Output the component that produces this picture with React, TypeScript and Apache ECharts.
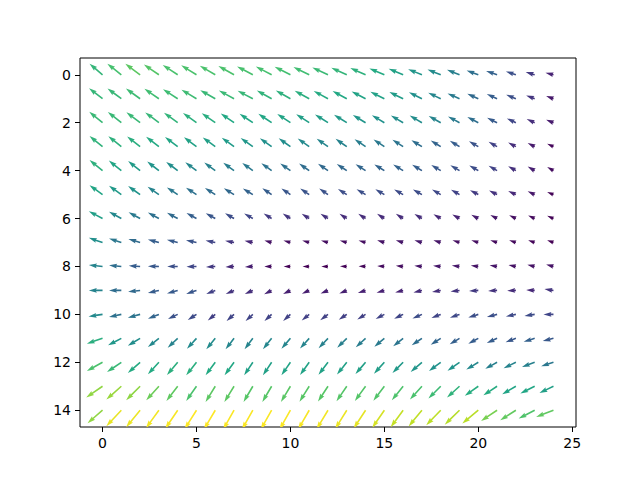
import React, { useEffect, useRef } from 'react';
import * as echarts from 'echarts';

// grid positions (columns along x, rows along y)
const xGrid = [0, 1, 2, 3, 4, 5, 6, 7, 8, 9, 10, 11, 12, 13, 14, 15, 16, 17, 18, 19, 20, 21, 22, 23, 24];
const yGrid = [0, 1, 2, 3, 4, 5, 6, 7, 8, 9, 10, 11, 12, 13, 14];

const xTicks = [0, 5, 10, 15, 20, 25];
const yTicks = [0, 2, 4, 6, 8, 10, 12, 14];

// horizontal component (positive = right), one row per y
const uField = [
  [-13, -14, -14.8, -15, -15, -15.3, -15.5, -15.7, -15.8, -15.8, -15.8, -15.8, -15.7, -15.5, -15.3, -15, -14.5, -13.8, -13.2, -12.5, -11.7, -11, -10, -9, -8],
  [-13.5, -13.8, -14.2, -14.5, -14.7, -15, -15, -15.2, -15.2, -14.8, -14.6, -14.5, -14.3, -14.2, -14, -14, -13.8, -13, -12.5, -12, -11, -10.3, -9.7, -8.5, -7.3],
  [-13.3, -13.5, -13.7, -13.7, -13.7, -13.5, -13.5, -13.3, -13.3, -13.3, -13.2, -13, -13, -12.8, -12.7, -12.5, -12.3, -12.3, -12, -11.5, -11, -10, -9, -8, -7.3],
  [-13, -13, -13, -12.8, -12.7, -12.5, -12.5, -12.3, -12.2, -11.8, -11.7, -11.5, -11.3, -11.2, -11, -10.8, -10.7, -10.5, -10, -9.7, -9.3, -8.5, -7.7, -7, -6.3],
  [-13, -12.5, -12, -11.7, -11.5, -11.2, -11, -10.8, -10.6, -10.3, -10.2, -10.1, -10, -10, -10, -10, -10, -9.8, -9.5, -9.2, -9, -8.5, -7.7, -7, -6.3],
  [-13, -12.3, -12, -11.3, -10.8, -10.5, -10.3, -10.2, -10, -9.3, -9, -9, -8.8, -8.8, -9, -9, -9, -9, -8.7, -8.5, -8.3, -8, -7.7, -7, -6.3],
  [-13.7, -12.3, -11.5, -11, -10.7, -10, -9.5, -9, -8.7, -8, -7.7, -7.5, -7.5, -7.3, -7.3, -7.3, -7.3, -7.5, -7.3, -7.2, -7, -6.8, -6.7, -6.5, -6.3],
  [-13.7, -12.3, -11.7, -11, -10.8, -10.5, -9.7, -9, -8.3, -7.2, -7, -7, -7, -7, -7, -7.2, -7.3, -7.5, -7.3, -7, -7, -6.8, -6.7, -6.5, -6.3],
  [-13.7, -12.3, -11.3, -11, -10.5, -10, -9.3, -8.6, -8, -7.3, -6.8, -6.7, -6.7, -6.8, -7, -7.2, -7.3, -7.6, -7.7, -7.7, -7.5, -7.5, -7.4, -7.3, -7.3],
  [-13.7, -12.3, -12, -11, -10.7, -10.3, -9, -8.3, -8, -7.5, -7.3, -7.3, -7.4, -7.5, -7.7, -7.8, -8, -8.5, -8.7, -9, -9.3, -9, -8.7, -8.5, -9],
  [-14, -12.3, -12.3, -11, -9.7, -8.7, -7.5, -7.5, -7.3, -7.2, -7.3, -7.5, -7.8, -8, -8.3, -8.7, -9, -9.5, -9.3, -9.6, -10, -10.2, -10, -10.2, -10],
  [-15.7, -13.3, -12.3, -11, -10, -9.5, -9, -8.5, -8.3, -8.7, -9, -9.2, -9.4, -9.6, -9.8, -10, -10, -10.2, -10, -9.8, -10, -10.3, -10.3, -11, -10.7],
  [-15.7, -14.3, -12.3, -11, -10.7, -10.3, -9.7, -9.5, -8.7, -8.7, -9, -9.2, -9.5, -9.8, -10.1, -10.4, -10.7, -11.3, -11.7, -12, -12, -11.8, -12.3, -12.7, -12.3],
  [-16.3, -15, -14, -12.7, -11.3, -10.3, -9.7, -9.7, -9.3, -9.3, -9.5, -9.7, -10, -10.3, -10.7, -11, -11.3, -12, -12.3, -12.5, -13.5, -13.7, -13.7, -14.3, -14],
  [-15, -15, -14, -13, -12.5, -12, -11.5, -11, -11, -11, -11, -11.2, -11.5, -11.7, -12, -12.2, -12.5, -13.3, -14.5, -14.8, -16, -16, -15.7, -16, -17.3],
];

// vertical component (positive = up on screen), one row per y
const vField = [
  [11, 11, 11, 10.3, 9.8, 9.4, 9, 8.7, 8.3, 8.2, 8, 7.7, 7.3, 7, 6.7, 6.3, 6, 5.6, 5.3, 5, 4.3, 3.8, 3.3, 2.7, 2],
  [10.5, 10.3, 10.2, 10, 9.5, 9, 8.6, 8.3, 8, 8.2, 8.2, 8, 7.8, 7.7, 7.3, 7, 6.7, 6.5, 6, 5.3, 5, 4.8, 4, 3.3, 2.7],
  [11, 10.8, 10.5, 10.3, 10, 9.7, 9.5, 9.2, 9, 9, 8.8, 8.5, 8.3, 8, 7.7, 7.5, 7.3, 7.3, 6.8, 6.3, 5.7, 5, 4.3, 3.6, 3],
  [10.7, 10.5, 10.2, 10, 9.7, 9.5, 9.2, 9, 8.7, 8.5, 8.3, 8.2, 8, 7.8, 7.5, 7.2, 7, 6.5, 6.2, 5.8, 5.3, 4.8, 4.2, 3.6, 3],
  [10.5, 10, 9.5, 9, 8.7, 8.3, 8, 7.8, 7.6, 7.4, 7.2, 7, 6.8, 6.6, 6.4, 6.2, 6, 5.8, 5.6, 5.4, 5.2, 4.8, 4.4, 4, 3.6],
  [9.3, 8.8, 8.5, 7.8, 7.2, 6.9, 6.6, 6.3, 6, 6.4, 6.2, 6, 6, 5.6, 5.4, 5.3, 5, 5.2, 5.1, 4.9, 4.4, 4.2, 3.7, 3.3, 2.7],
  [7.3, 6.7, 6.3, 6, 5.7, 5.5, 5.3, 5.2, 5, 5, 5, 4.9, 4.9, 4.8, 4.8, 4.7, 4.7, 4.5, 4.3, 4, 3.8, 3.5, 3.2, 3, 2.7],
  [4.7, 4, 3.5, 3, 2.7, 2.3, 2, 1.8, 1.7, 2, 2, 2, 2, 2, 2, 2.2, 2.3, 2.3, 2.3, 2.3, 2.3, 2.3, 2.3, 2.3, 2.3],
  [1.5, 1.2, 0.7, 0.3, 0, -0.3, -0.5, -0.5, -0.5, 0, 0, 0, 0, 0.2, 0.3, 0.5, 0.7, 0.7, 0.8, 0.9, 1, 1.2, 1.4, 1.7, 2],
  [0, 0, -1.3, -2.5, -3, -3.5, -3.7, -3.7, -3.7, -3.8, -3.6, -3.4, -3.2, -3, -2.7, -2.4, -2, -2, -1.5, -1.2, -0.7, -0.5, -0.3, 0.3, 1.3],
  [-2, -2.7, -3.3, -4.3, -4.5, -5.5, -6, -6.5, -6.7, -6.7, -6.5, -6.2, -5.8, -5.4, -5, -4.6, -4.3, -4.2, -3.5, -3.3, -3.2, -2.7, -2, -1.5, 0],
  [-5.3, -7, -7.3, -8.7, -9.3, -10.5, -11, -11, -11, -10.8, -10.5, -10.2, -9.8, -9.4, -9, -8.5, -8, -7, -6.3, -6, -5.3, -4.7, -3.8, -3.5, -2.7],
  [-8.7, -9.7, -10.7, -12, -12.7, -13, -13, -13, -13, -13, -13, -12.8, -12.5, -12.2, -11.8, -11.4, -10.7, -9.7, -8.7, -8.5, -7.3, -6.5, -6, -4.7, -4],
  [-11.3, -13.3, -14, -14, -14.7, -14.7, -15.7, -15.7, -15.7, -15.7, -15.7, -15.5, -15.3, -15, -14.7, -14.4, -14, -13.3, -12.3, -11.3, -9.5, -9, -8, -7.3, -6.7],
  [-13, -16, -17, -18, -18.5, -19, -19.3, -19.5, -19.5, -19.5, -19.5, -19.3, -19, -18.7, -18.3, -17.7, -17, -16.2, -15, -14.5, -13.3, -10.7, -10, -8.3, -6.7],
];

const viridis = [
  '#440154', '#482475', '#414487', '#355f8d', '#2a788e', '#21918c',
  '#22a884', '#44bf70', '#7ad151', '#bddf26', '#fde725',
];

export default function App() {
  const ref = useRef<HTMLDivElement>(null);

  useEffect(() => {
    const chart = echarts.init(ref.current as HTMLDivElement, null, { renderer: 'svg' });

    const data: number[][] = [];
    yGrid.forEach((y, r) => {
      xGrid.forEach((x, c) => {
        const u = uField[r][c];
        const v = vField[r][c];
        data.push([x, y, u, v, Math.hypot(u, v)]);
      });
    });
    const mags = data.map((d) => d[4]);
    const magMin = Math.min(...mags);
    const magMax = Math.max(...mags);

    const SCALE = 1; // px per unit
    const W = 1.6; // shaft width in px
    const HL = 5 * W;
    const HA = 4.5 * W;
    const HW = 1.5 * W;
    const SW = 0.5 * W;

    const renderItem = (params: any, api: any) => {
      const x = api.value(0);
      const y = api.value(1);
      const u = api.value(2);
      const v = api.value(3);
      const p = api.coord([x, y]);
      const L = Math.hypot(u, v) * SCALE;
      let pts: number[][];
      if (L >= HL) {
        pts = [[0, SW], [L - HA, SW], [L - HL, HW], [L, 0], [L - HL, -HW], [L - HA, -SW], [0, -SW]];
      } else {
        const s = L / HL;
        pts = [[0, SW], [HL - HA, SW], [0, HW], [HL, 0], [0, -HW], [HL - HA, -SW], [0, -SW]].map((q) => [q[0] * s, q[1] * s]);
      }
      const ang = Math.atan2(-v, u);
      const ca = Math.cos(ang);
      const sa = Math.sin(ang);
      const points = pts.map(([a, b]) => [p[0] + a * ca - b * sa, p[1] + a * sa + b * ca]);
      return {
        type: 'polygon',
        shape: { points },
        style: { fill: api.visual('color') },
      };
    };

    const labelStyle = {
      fontFamily: 'DejaVu Sans',
      fontSize: 14,
      color: '#000',
      margin: 9,
    };

    chart.setOption({
      animation: false,
      backgroundColor: '#fff',
      grid: {
        show: true,
        left: 80,
        top: 58,
        width: 496,
        height: 369,
        borderColor: '#000',
        borderWidth: 1,
        backgroundColor: 'transparent',
      },
      xAxis: {
        type: 'value',
        position: 'bottom',
        min: -1.2,
        max: 25.2,
        axisLine: { show: false, onZero: false },
        splitLine: { show: false },
        axisTick: { show: true, length: 5, lineStyle: { color: '#000', width: 1 }, customValues: xTicks },
        axisLabel: { ...labelStyle, customValues: xTicks },
      },
      yAxis: {
        type: 'value',
        position: 'left',
        inverse: true,
        min: -0.7,
        max: 14.7,
        axisLine: { show: false, onZero: false },
        splitLine: { show: false },
        axisTick: { show: true, length: 5, lineStyle: { color: '#000', width: 1 }, customValues: yTicks },
        axisLabel: { ...labelStyle, customValues: yTicks },
      },
      visualMap: {
        show: false,
        type: 'continuous',
        seriesIndex: 0,
        dimension: 4,
        min: magMin,
        max: magMax,
        inRange: { color: viridis },
      },
      series: [
        {
          type: 'custom',
          clip: true,
          renderItem,
          encode: { x: 0, y: 1 },
          data,
        },
      ],
    });

    return () => {
      chart.dispose();
    };
  }, []);

  return (
    <div
      ref={ref}
      style={{ position: 'fixed', left: 0, top: 0, width: 640, height: 480, background: '#fff' }}
    />
  );
}
